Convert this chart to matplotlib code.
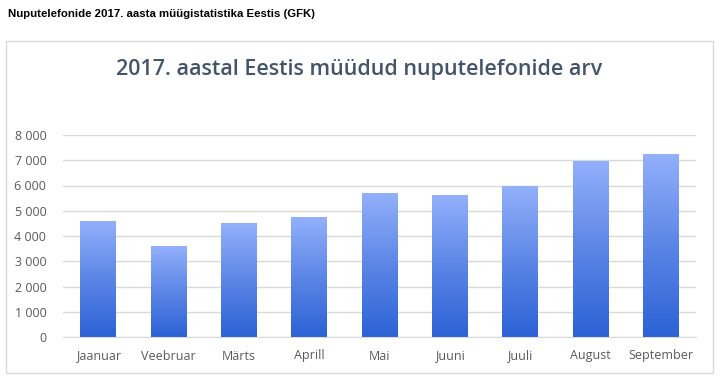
import matplotlib
matplotlib.use("Agg")
import matplotlib.pyplot as plt
import numpy as np
from matplotlib.patches import Rectangle
from matplotlib.colors import LinearSegmentedColormap
from matplotlib.ticker import FuncFormatter

months = ["Jaanuar", "Veebruar", "Märts", "Aprill", "Mai", "Juuni", "Juuli", "August", "September"]
sales = [4600, 3600, 4500, 4740, 5690, 5640, 5980, 6980, 7260]
yticks = [0, 1000, 2000, 3000, 4000, 5000, 6000, 7000, 8000]

fig = plt.figure(figsize=(7.2, 3.89), dpi=100)
fig.patch.set_facecolor("white")

fig.text(8/720, 1 - 14/389, "Nuputelefonide 2017. aasta müügistatistika Eestis (GFK)",
         family="Liberation Sans", weight="bold", fontsize=8.2, va="center", ha="left", color="black")

fig.add_artist(Rectangle((6/720, 1 - 373/389), (713-6)/720, (373-41)/389,
                         transform=fig.transFigure, fill=False, edgecolor="#D9D9D9", lw=1))

fig.text(359/720, 1 - 70/389, "2017. aastal Eestis müüdud nuputelefonide arv",
         family="Open Sans", weight="semibold", fontsize=15.5, color="#44546A", ha="center", va="center")

ax = fig.add_axes([63/720, 1 - 337/389, (696-63)/720, (337-135)/389])
x = np.arange(len(months))
bars = ax.bar(x, sales, width=0.51, color="none", zorder=2)
cmap = LinearSegmentedColormap.from_list("g", ["#2C62D6", "#5C86E6", "#93B0FB"])
grad = np.linspace(0, 1, 256).reshape(-1, 1)
for b in bars:
    x0, y0 = b.get_x(), b.get_y()
    w, h = b.get_width(), b.get_height()
    im = ax.imshow(grad, cmap=cmap, origin="lower", aspect="auto",
                   extent=(x0, x0 + w, y0, y0 + h), zorder=2)
    im.set_clip_path(b)

ax.set_xlim(-0.5, len(months) - 0.5)
ax.set_ylim(0, 8000)
ax.set_yticks(yticks)
ax.yaxis.set_major_formatter(FuncFormatter(lambda v, p: f"{int(v):,}".replace(",", " ")))
ax.set_xticks(x)
ax.set_xticklabels(months)
ax.grid(axis="y", color="#D9D9D9", lw=1, zorder=0)
for s in ["top", "right", "left"]:
    ax.spines[s].set_visible(False)
ax.spines["bottom"].set_color("#D9D9D9")
ax.tick_params(axis="both", length=0, colors="#595959", labelsize=9)
ax.tick_params(axis="x", pad=9)
ax.tick_params(axis="y", pad=12)
for t in ax.get_xticklabels() + ax.get_yticklabels():
    t.set_family("Open Sans")

fig.savefig("out.png", dpi=100)
